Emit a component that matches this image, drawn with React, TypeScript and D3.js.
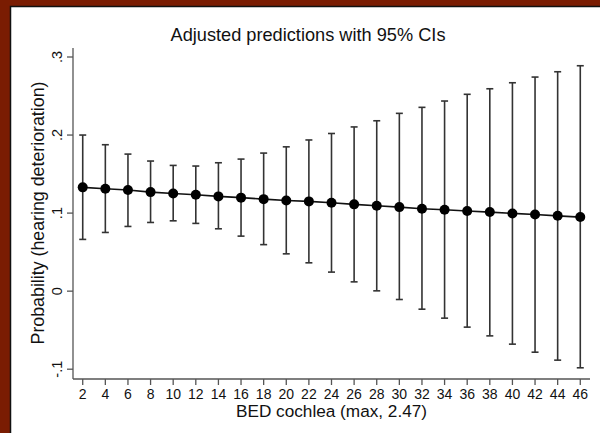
import React from "react";
import * as d3 from "d3";

const xValues = [2, 4, 6, 8, 10, 12, 14, 16, 18, 20, 22, 24, 26, 28, 30, 32, 34, 36, 38, 40, 42, 44, 46];
const predicted = [0.1330, 0.1312, 0.1295, 0.1269, 0.1252, 0.1235, 0.1214, 0.1198, 0.1179, 0.1162, 0.1150, 0.1132, 0.1112, 0.1094, 0.1077, 0.1055, 0.1042, 0.1026, 0.1013, 0.0996, 0.0983, 0.0965, 0.0949];
const upperCI = [0.2000, 0.1876, 0.1756, 0.1667, 0.1611, 0.1603, 0.1645, 0.1692, 0.1769, 0.1849, 0.1937, 0.2020, 0.2104, 0.2183, 0.2278, 0.2355, 0.2436, 0.2522, 0.2593, 0.2670, 0.2743, 0.2811, 0.2888];
const lowerCI = [0.0663, 0.0752, 0.0829, 0.0880, 0.0901, 0.0868, 0.0799, 0.0705, 0.0596, 0.0478, 0.0363, 0.0244, 0.0119, 0.0004, -0.0107, -0.0231, -0.0346, -0.0461, -0.0573, -0.0679, -0.0782, -0.0884, -0.0982];
const yTicks = [-0.1, 0, 0.1, 0.2, 0.3];
const yTickLabels = ["-.1", "0", ".1", ".2", ".3"];
const title = "Adjusted predictions with 95% CIs";
const xTitle = "BED cochlea (max, 2.47)";
const yTitle = "Probability (hearing deterioration)";

export default function App() {
  const W = 600, H = 433;
  const left = 73, right = 590, top = 48, bottom = 379;
  const x = d3.scaleLinear().domain([1.14, 46.86]).range([left, right]);
  const y = d3.scaleLinear().domain([-0.1, 0.3]).range([369.2, 57]);
  const font = "'Liberation Sans', Arial, Helvetica, sans-serif";
  const line = d3.line<number>().x((_, i) => x(xValues[i])).y((d) => y(d));
  const cap = 3.5;
  return (
    <svg width={W} height={H} style={{ position: "absolute", left: 0, top: 0 }} fontFamily={font}>
      <rect x={0} y={0} width={W} height={H} fill="#7a1c02" />
      <rect x={10.5} y={6.5} width={W} height={H} fill="#ffffff" stroke="#111" strokeWidth={1.5} />
      <text x={308} y={40.5} textAnchor="middle" fontSize={18.2} fill="#111">{title}</text>
      {/* y axis */}
      <line x1={left} x2={left} y1={top} y2={bottom} stroke="#555" strokeWidth={1.3} />
      {yTicks.map((t, i) => (
        <g key={t}>
          <line x1={left - 6} x2={left} y1={y(t)} y2={y(t)} stroke="#555" strokeWidth={1.3} />
          <text transform={`translate(${62},${y(t)}) rotate(-90)`} textAnchor="middle" fontSize={14.5} fill="#111">{yTickLabels[i]}</text>
        </g>
      ))}
      <text transform={`translate(${43.5},${213}) rotate(-90)`} textAnchor="middle" fontSize={17.8} fill="#111">{yTitle}</text>
      {/* x axis */}
      <line x1={left} x2={right} y1={bottom} y2={bottom} stroke="#555" strokeWidth={1.3} />
      {xValues.map((v) => (
        <g key={v}>
          <line x1={x(v)} x2={x(v)} y1={bottom} y2={bottom + 6} stroke="#555" strokeWidth={1.3} />
          <text x={x(v)} y={398.8} textAnchor="middle" fontSize={14} fill="#111">{v}</text>
        </g>
      ))}
      <text x={331.5} y={417} textAnchor="middle" fontSize={17.2} fill="#111">{xTitle}</text>
      {/* CIs */}
      {xValues.map((v, i) => (
        <g key={"ci" + v} stroke="#333" strokeWidth={1.6}>
          <line x1={x(v)} x2={x(v)} y1={y(upperCI[i])} y2={y(lowerCI[i])} />
          <line x1={x(v) - cap} x2={x(v) + cap} y1={y(upperCI[i])} y2={y(upperCI[i])} />
          <line x1={x(v) - cap} x2={x(v) + cap} y1={y(lowerCI[i])} y2={y(lowerCI[i])} />
        </g>
      ))}
      <path d={line(predicted) || ""} fill="none" stroke="#111" strokeWidth={1.6} />
      {xValues.map((v, i) => (
        <circle key={"p" + v} cx={x(v)} cy={y(predicted[i])} r={5} fill="#000" />
      ))}
    </svg>
  );
}
